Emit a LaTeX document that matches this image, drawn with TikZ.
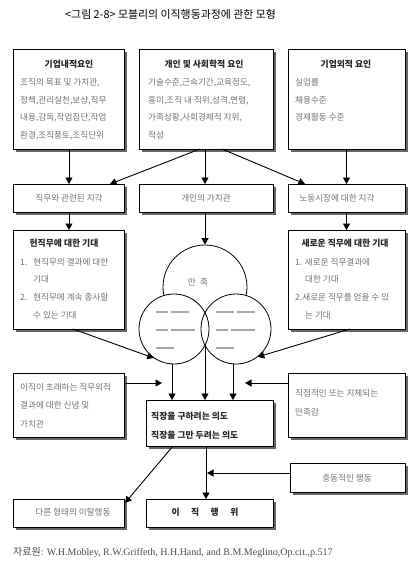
\documentclass[tikz,border=0pt]{standalone}
\usepackage{fontspec}
\setmainfont{Liberation Serif}
\newfontfamily\kr{Noto Sans CJK KR}
\usetikzlibrary{arrows.meta,shadows,calc}
\begin{document}
\begin{tikzpicture}[x=1pt,y=-1pt,
  box/.style={draw=black, fill=white, line width=0.8pt, inner sep=0pt, outer sep=0pt,
    general shadow={fill=black!60, shadow xshift=3pt, shadow yshift=-3pt}},
  txt/.style={font=\kr\fontsize{8.6}{10}\selectfont, text=black!55, anchor=base west, inner sep=0pt},
  ctxt/.style={txt, anchor=base},
  ttl/.style={font=\kr\bfseries\fontsize{8.8}{10}\selectfont, text=black!85, anchor=base, inner sep=0pt},
  arr/.style={-{Triangle[length=6.5pt,width=7pt]}, line width=0.9pt},
  circ/.style={draw, circle, line width=0.8pt, inner sep=0pt},
  gmark/.style={line width=2pt, draw=black!35}]
\useasboundingbox (0,0) rectangle (419,565);

% title
\node[anchor=base west, inner sep=0pt, font=\kr\fontsize{10.9}{12}\selectfont] (title) at (65,18) {<그림 2-8> 모블리의 이직행동과정에 관한 모형};

% top boxes
\node[box, anchor=north west, minimum width=111pt, minimum height=100pt] (b1) at (13,49) {};
\node[box, anchor=north west, minimum width=134pt, minimum height=100pt] (b2) at (139,49) {};
\node[box, anchor=north west, minimum width=117pt, minimum height=100pt] (b3) at (288,49) {};

\node[ttl] (b1t) at (69,67) {기업내적요인};
\node[txt] (b1a) at (20,85) {조직의 목표 및 가치관,};
\node[txt] (b1b) at (20,103) {정책,관리실천,보상,직무};
\node[txt] (b1c) at (20,120) {내용,감독,작업집단,작업};
\node[txt] (b1d) at (20,138) {환경,조직풍토,조직단위};

\node[ttl] (b2t) at (204,67) {개인 및 사회학적 요인};
\node[txt] (b2a) at (148,85) {기술수준,근속기간,교육정도,};
\node[txt] (b2b) at (148,103) {흥미,조직 내 직위,성격,연령,};
\node[txt] (b2c) at (148,120) {가족상황,사회경제적 지위,};
\node[txt] (b2d) at (148,138) {적성};

\node[ttl] (b3t) at (346,67) {기업외적 요인};
\node[txt] (b3a) at (295,85) {실업률};
\node[txt] (b3b) at (295,103) {채용수준};
\node[txt] (b3c) at (295,120) {경제활동 수준};

% second row
\node[box, anchor=north west, minimum width=111pt, minimum height=28pt] (r1) at (13,184) {};
\node[box, anchor=north west, minimum width=134pt, minimum height=28pt] (r2) at (139,184) {};
\node[box, anchor=north west, minimum width=117pt, minimum height=28pt] (r3) at (288,184) {};
\node[ctxt] (r1t) at (69,201) {직무와 관련된 지각};
\node[ctxt] (r2t) at (206,201) {개인의 가치관};
\node[ctxt] (r3t) at (337,201) {노동시장에 대한 지각};

% third row
\node[box, anchor=north west, minimum width=111pt, minimum height=99pt] (e1) at (13,230) {};
\node[box, anchor=north west, minimum width=117pt, minimum height=99pt] (e2) at (288,230) {};
\node[ttl] (e1t) at (64,246) {현직무에 대한 기대};
\node[txt] (e1a) at (20,265) {1.};
\node[txt] (e1b) at (33,265) {현직무의 결과에 대한};
\node[txt] (e1c) at (33,282) {기대};
\node[txt] (e1d) at (20,300) {2.};
\node[txt] (e1e) at (33,300) {현직무에 계속 종사할};
\node[txt] (e1f) at (33,318) {수 있는 기대};

\node[ttl] (e2t) at (345,246) {새로운 직무에 대한 기대};
\node[txt] (e2a) at (295,265) {1. 새로운 직무결과에};
\node[txt] (e2b) at (305,282) {대한 기대};
\node[txt] (e2c) at (295,300) {2.새로운 직무를 얻을 수 있};
\node[txt] (e2d) at (305,318) {는 기대};

% circles
\node[circ, minimum size=84pt] (c0) at (205,287) {};
\fill[white] (174,329) circle (35pt) (236,329) circle (35pt);
\node[circ, minimum size=70pt] (cl) at (174,329) {};
\node[circ, minimum size=70pt] (cr) at (236,329) {};
\node[ctxt] (sat) at (198,285) {만\hspace{0.5em}족};
\coordinate (ix) at (205,345);

\draw[gmark] (156,312) -- (168,312) (171,312) -- (189,312);
\draw[gmark] (156,330) -- (168,330) (171,330) -- (195,330);
\draw[gmark] (156,348) -- (174,348);
\draw[gmark] (216,312) -- (234,312) (237,312) -- (255,312);
\draw[gmark] (216,330) -- (228,330) (231,330) -- (255,330);
\draw[gmark] (216,348) -- (234,348);

% lower boxes
\node[box, anchor=north west, minimum width=111pt, minimum height=64pt] (bl) at (13,373) {};
\node[box, anchor=north west, minimum width=117pt, minimum height=64pt] (br) at (288,373) {};
\node[txt] (bla) at (20,390) {이직이 초래하는 직무외적};
\node[txt] (blb) at (20,408) {결과에 대한 신념 및};
\node[txt] (blc) at (20,427) {가치관};
\node[txt] (bra) at (295,396) {직접적인 또는 지체되는};
\node[txt] (brb) at (295,415) {만족감};

\node[box, anchor=north west, minimum width=127pt, minimum height=46pt] (ib) at (146,400) {};
\node[ttl, anchor=base west] (iba) at (151,419) {직장을 구하려는 의도};
\node[ttl, anchor=base west] (ibb) at (151,438) {직장을 그만 두려는 의도};

\node[box, anchor=north west, minimum width=115pt, minimum height=29pt] (imp) at (290,463) {};
\node[ctxt] (impt) at (347,481) {충동적인 행동};

\node[box, anchor=north west, minimum width=111pt, minimum height=28pt] (oth) at (13,499) {};
\node[box, anchor=north west, minimum width=127pt, minimum height=28pt] (act) at (146,499) {};
\node[ctxt] (otht) at (73,515) {다른 형태의 이탈행동};
\node[ttl] (actt) at (205,515) {이\hspace{1.3em}직\hspace{1.3em}행\hspace{1.3em}위};

% footer
\node[anchor=base west, inner sep=0pt, text=black!70, font=\fontsize{10}{12}\selectfont] (src) at (13,555) {{\kr 자료원}: W.H.Mobley, R.W.Griffeth, H.H.Hand, and B.M.Meglino,Op.cit.,p.517};

% connectors
\draw[arr] (b1.south -| r1t) -- (r1.north -| r1t);
\draw[arr] ($(b2.south west)+(61,0)$) -- ($(r1.north east)+(-14,0)$);
\draw[arr] ($(b2.south west)+(66,0)$) -- ($(r2.north west)+(66,0)$);
\draw[arr] ($(b2.south west)+(83,0)$) -- ($(r3.north west)+(17,0)$);
\draw[arr] (b3.south) -- (r3.north);

\draw[arr] (r1.south -| r1t) -- (e1.north -| r1t);
\draw[arr] (r2.south -| c0) -- (c0.north);
\draw[arr] (r3.south) -- (e2.north);

\draw[arr] ($(e1.south west)+(60,0)$) -- (cl.-125);
\draw[arr] ($(e2.south west)+(62,0)$) -- (cr.-52);

\draw[arr] ($(cl.south)+(-2,0)$) -- ($(ib.north west)+(26,0)$);
\draw[arr] (ix) -- (ix |- ib.north);
\draw[arr] ($(cr.south)+(-3,0)$) -- ($(ib.north west)+(87,0)$);

\coordinate (bend) at (162,383);
\draw[arr] (bend -| bl.east) -- (bend);
\coordinate (brend) at (245,383);
\draw[arr] (brend -| br.west) -- (brend);

\coordinate (ij) at (207,473);
\draw[arr] ($(ib.south west)+(60,0)$) -- ($(act.north west)+(60,0)$);
\draw[arr] (imp.west |- ij) -- (ij);
\draw[arr] ($(ib.south west)+(27,0)$) -- ($(oth.north east)+(1,4)$);
\end{tikzpicture}
\end{document}
